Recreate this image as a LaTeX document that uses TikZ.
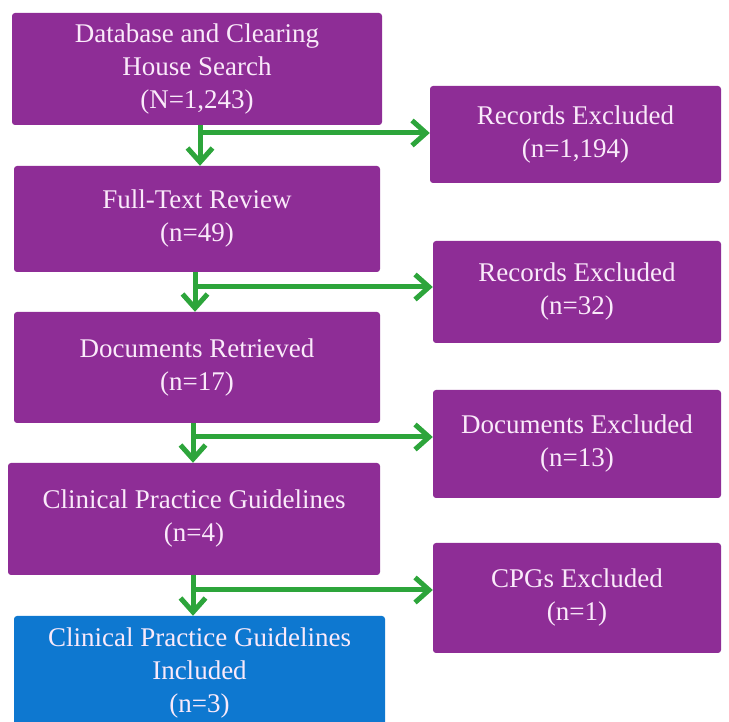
\documentclass[tikz,border=0pt]{standalone}
\usepackage{fontspec}
\setmainfont{Liberation Serif}
\usepackage{tikz}
\usetikzlibrary{arrows.meta}

\definecolor{boxpurple}{RGB}{142,45,150}
\definecolor{boxblue}{RGB}{14,120,208}
\definecolor{arrowgreen}{RGB}{45,165,59}
\definecolor{boxtext}{RGB}{250,234,250}

\tikzset{
  stage/.style={fill=boxpurple, rounded corners=3pt, text=boxtext, align=center,
    inner sep=0pt, font=\fontsize{27}{33}\selectfont},
  flow/.style={draw=arrowgreen, line width=5pt,
    -{Straight Barb[length=14pt,width=25pt,line width=5pt]}}
}

\begin{document}
\begin{tikzpicture}[x=1pt, y=1pt]
      \useasboundingbox (0, 0) rectangle (729, 721);
      \node[stage, minimum width=370, minimum height=112] (search) at (197, 652)
        {Database and Clearing\\House Search\\(N=1,243)};
      \node[stage, minimum width=366, minimum height=106] (review) at (197, 502)
        {Full-Text Review\\(n=49)};
      \node[stage, minimum width=366, minimum height=111] (retrieved) at (197, 353.5)
        {Documents Retrieved\\(n=17)};
      \node[stage, minimum width=372, minimum height=112] (cpg) at (194, 202)
        {Clinical Practice Guidelines\\(n=4)};
      \node[stage, fill=boxblue, minimum width=371, minimum height=115] (included) at (199.5, 47.5)
        {Clinical Practice Guidelines\\Included\\(n=3)};
      \node[stage, minimum width=291, minimum height=97] (excl1) at (575.5, 586.5)
        {Records Excluded\\(n=1,194)};
      \node[stage, minimum width=288, minimum height=102] (excl2) at (577, 429)
        {Records Excluded\\(n=32)};
      \node[stage, minimum width=288, minimum height=108] (excl3) at (577, 277)
        {Documents Excluded\\(n=13)};
      \node[stage, minimum width=288, minimum height=110] (excl4) at (577, 123)
        {CPGs Excluded\\(n=1)};
      \coordinate (split1) at (200, 588);
      \coordinate (split2) at (195, 434);
      \coordinate (split3) at (193, 284);
      \coordinate (split4) at (193, 131);
      \draw[flow] (search.south -| split1) -- (review.north -| split1);
      \draw[flow] (split1) -- (excl1.west |- split1);
      \draw[flow] (review.south -| split2) -- (retrieved.north -| split2);
      \draw[flow] (split2) -- (excl2.west |- split2);
      \draw[flow] (retrieved.south -| split3) -- (cpg.north -| split3);
      \draw[flow] (split3) -- (excl3.west |- split3);
      \draw[flow] (cpg.south -| split4) -- (included.north -| split4);
      \draw[flow] (split4) -- (excl4.west |- split4);
    \end{tikzpicture}
\end{document}
